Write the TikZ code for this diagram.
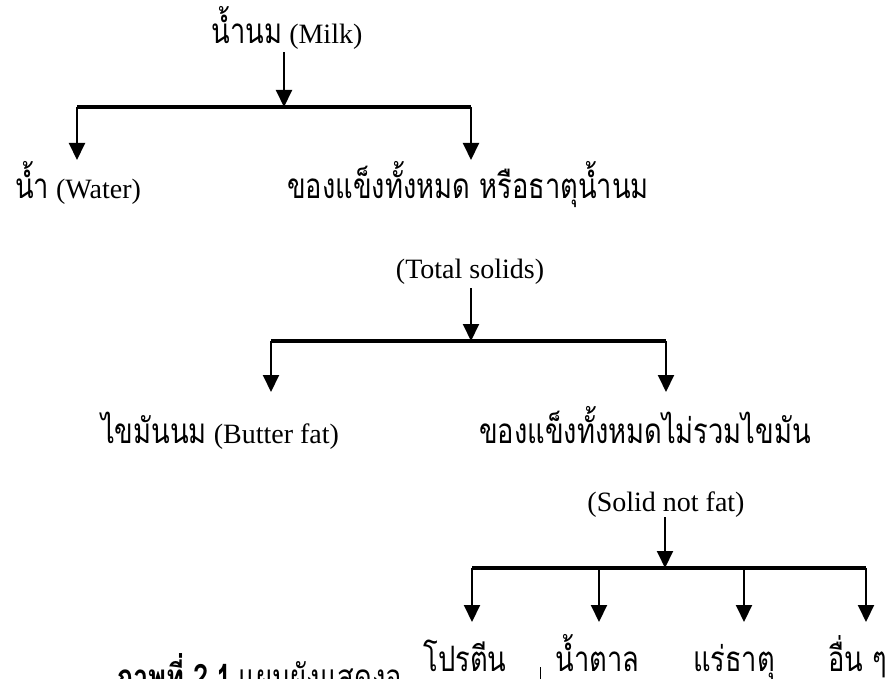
\documentclass[tikz,border=0pt]{standalone}
\usepackage{fontspec}
\setmainfont{Liberation Serif}
\newfontfamily\thaifont[Script=Thai, FakeStretch=0.78]{Loma}
\usetikzlibrary{arrows.meta}
\newcommand\thtxt[1]{{\thaifont\fontsize{35}{40}\selectfont #1}}
\begin{document}
\begin{tikzpicture}[x=1pt,y=-1pt,
  lbl/.style={inner sep=0pt, anchor=base, font=\fontsize{28}{30}\selectfont},
  barline/.style={line width=3.4pt},
  arr/.style={line width=2pt, -{Triangle[length=17pt,width=16pt]}},
  tick/.style={line width=0.8pt}]
\useasboundingbox (0,0) rectangle (893,679);
\clip (0,0) rectangle (893,679);
% ---- level 0
\node[lbl] (milk) at (287,44) {\thtxt{น้ำนม} (Milk)};
\coordinate (b0l) at (77,107);
\coordinate (b0m) at (284,107);
\coordinate (b0r) at (471,107);
\coordinate (t0l) at (77,160);
\coordinate (t0r) at (471,160);
\draw[barline] (b0l) -- (b0r);
\draw[arr] ([yshift=-2pt]milk.south -| b0m) -- (b0m);
\draw[arr] (b0l) -- (t0l);
\draw[arr] (b0r) -- (t0r);
\node[lbl] (water) at (78,198) {\thtxt{น้ำ} (Water)};
\node[lbl] (ts1) at (468,198) {\thtxt{ของแข็งทั้งหมด หรือธาตุน้ำนม}};
% ---- level 1
\node[lbl] (ts2) at (470,278) {(Total solids)};
\coordinate (b1l) at (271,341);
\coordinate (b1m) at (471,341);
\coordinate (b1r) at (666,341);
\coordinate (t1l) at (271,392);
\coordinate (t1r) at (666,392);
\draw[barline] (b1l) -- (b1r);
\draw[arr] ([yshift=-4pt]ts2.south -| b1m) -- (b1m);
\draw[arr] (b1l) -- (t1l);
\draw[arr] (b1r) -- (t1r);
\node[lbl] (bf) at (220,443) {\thtxt{ไขมันนม} (Butter fat)};
\node[lbl] (snf1) at (645,443) {\thtxt{ของแข็งทั้งหมดไม่รวมไขมัน}};
% ---- level 2
\node[lbl] (snf2) at (666,511) {(Solid not fat)};
\coordinate (b2a) at (472,568);
\coordinate (b2b) at (599,568);
\coordinate (b2m) at (665,568);
\coordinate (b2c) at (744,568);
\coordinate (b2d) at (866,568);
\coordinate (t2a) at (472,622);
\coordinate (t2b) at (599,622);
\coordinate (t2c) at (744,622);
\coordinate (t2d) at (866,622);
\draw[barline] (b2a) -- (b2d);
\draw[arr] (snf2.south -| b2m) -- (b2m);
\draw[arr] (b2a) -- (t2a);
\draw[arr] (b2b) -- (t2b);
\draw[arr] (b2c) -- (t2c);
\draw[arr] (b2d) -- (t2d);
\node[lbl] (prot) at (465,671) {\thtxt{โปรตีน}};
\node[lbl] (sugar) at (597.5,671) {\thtxt{น้ำตาล}};
\node[lbl] (mineral) at (734,671) {\thtxt{แร่ธาตุ}};
\node[lbl] (other) at (858,671) {\thtxt{อื่น ๆ}};
% ---- caption (cut off by the lower edge)
\node[lbl, anchor=base west] (cap) at (115,689) {\thtxt{\bfseries ภาพที่ 2.1} \thtxt{แผนผังแสดงอ}};
\coordinate (k1) at (540,667);
\coordinate (k2) at (540,679);
\draw[tick] (k1) -- (k2);
\end{tikzpicture}
\end{document}
